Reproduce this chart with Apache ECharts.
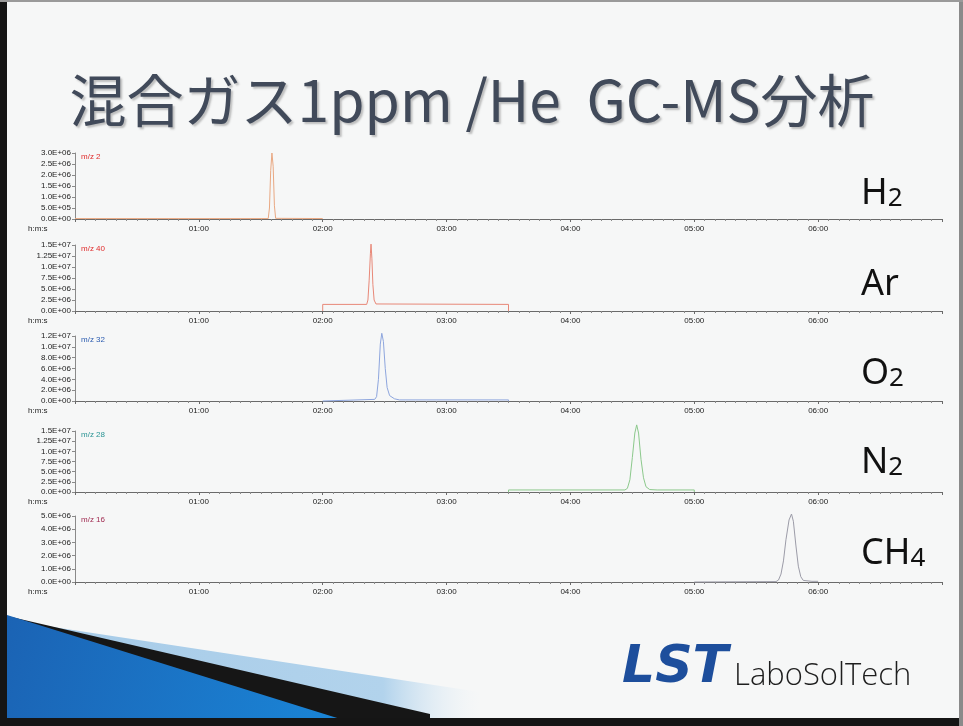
<!DOCTYPE html>
<html>
<head>
<meta charset="utf-8">
<script src="https://cdn.jsdelivr.net/npm/echarts@6.0.0/dist/echarts.min.js"></script>
<style>
html,body{margin:0;padding:0;background:#f6f7f7;}
#chart{width:963px;height:726px;}
</style>
</head>
<body>
<div id="chart"></div>
<script>
// ---- data (time in minutes, intensity in counts) ----
const timeLabels = ['01:00','02:00','03:00','04:00','05:00','06:00'];

const h2Times  = [0.0, 1.56, 1.57, 1.58, 1.59, 1.60, 1.61, 1.62, 2.0];
const h2Values = [2e4, 2e4, 5e5, 2.2e6, 3.0e6, 2.4e6, 6e5, 3e4, 2e4];

const arTimes  = [2.0, 2.0, 2.355, 2.365, 2.375, 2.385, 2.39, 2.397, 2.405, 2.415, 2.43, 3.5, 3.5];
const arValues = [0, 1.5e6, 1.5e6, 2.5e6, 7e6, 1.3e7, 1.52e7, 1.2e7, 6e6, 2.5e6, 1.6e6, 1.5e6, 0];

const o2Times  = [2.0, 2.0, 2.42, 2.435, 2.45, 2.465, 2.477, 2.49, 2.505, 2.52, 2.54, 2.58, 2.62, 3.5, 3.5];
const o2Values = [0, 3e5, 3e5, 8e5, 4e6, 1.05e7, 1.25e7, 1.1e7, 6e6, 2.5e6, 1e6, 4e5, 2e5, 2e5, 0];

const n2Times  = [3.5, 3.5, 4.44, 4.46, 4.48, 4.50, 4.52, 4.535, 4.55, 4.57, 4.59, 4.61, 4.64, 4.70, 5.0, 5.0];
const n2Values = [0, 5e5, 5e5, 9e5, 3e6, 8.5e6, 1.45e7, 1.65e7, 1.45e7, 8e6, 3.5e6, 1.3e6, 6e5, 5e5, 5e5, 0];

const ch4Times  = [5.0, 5.0, 5.66, 5.68, 5.70, 5.72, 5.74, 5.765, 5.785, 5.80, 5.82, 5.84, 5.86, 5.88, 5.95, 6.0, 6.0];
const ch4Values = [0, 3e4, 3e4, 1.5e5, 6e5, 1.6e6, 3.2e6, 4.7e6, 5.15e6, 4.6e6, 2.8e6, 1.2e6, 4e5, 1.2e5, 5e4, 5e4, 0];

const h2Ticks  = ['0.0E+00','5.0E+05','1.0E+06','1.5E+06','2.0E+06','2.5E+06','3.0E+06'];
const arTicks  = ['0.0E+00','2.5E+06','5.0E+06','7.5E+06','1.0E+07','1.25E+07','1.5E+07'];
const o2Ticks  = ['0.0E+00','2.0E+06','4.0E+06','6.0E+06','8.0E+06','1.0E+07','1.2E+07'];
const n2Ticks  = ['0.0E+00','2.5E+06','5.0E+06','7.5E+06','1.0E+07','1.25E+07','1.5E+07'];
const ch4Ticks = ['0.0E+00','1.0E+06','2.0E+06','3.0E+06','4.0E+06','5.0E+06'];

const mzLabels = ['m/z 2','m/z 40','m/z 32','m/z 28','m/z 16'];
const compounds = [['H','2'],['Ar',''],['O','2'],['N','2'],['CH','4']];
const titleText = '混合ガス1ppm /He  GC-MS分析';

// ---- layout / style ----
const panels = [
  {times:h2Times,  values:h2Values,  ticks:h2Ticks,  max:3e6,   step:5e5,   top:153, h:66, color:'#e9a882', mz:'#e02c2c', right:198},
  {times:arTimes,  values:arValues,  ticks:arTicks,  max:1.5e7, step:2.5e6, top:245, h:66, color:'#e88878', mz:'#e02c2c', right:289},
  {times:o2Times,  values:o2Values,  ticks:o2Ticks,  max:1.2e7, step:2e6,   top:336, h:65, color:'#8ea6de', mz:'#2c5cb0', right:378},
  {times:n2Times,  values:n2Values,  ticks:n2Ticks,  max:1.5e7, step:2.5e6, top:431, h:61, color:'#8cc98c', mz:'#2a9494', right:467},
  {times:ch4Times, values:ch4Values, ticks:ch4Ticks, max:5e6,   step:1e6,   top:516, h:66, color:'#9c9ca8', mz:'#a02c52', right:558}
];

const grids=[], xAxes=[], yAxes=[], series=[], graphics=[];

// background & frame
graphics.push({type:'rect', z:-10, shape:{x:0,y:0,width:963,height:726}, style:{fill:'#f6f7f7'}});
graphics.push({type:'polygon', z:-5, shape:{points:[[40,625],[480,692],[480,718],[40,718]]},
  style:{fill:{type:'linear',x:0,y:0,x2:1,y2:0,colorStops:[{offset:0,color:'#a6cbe8'},{offset:0.78,color:'#b2d3ec'},{offset:1,color:'rgba(230,240,247,0)'}]}}});
graphics.push({type:'polygon', z:-4, shape:{points:[[7,616],[430,714],[430,726],[7,726]]}, style:{fill:'#161616'}});
graphics.push({type:'polygon', z:-3, shape:{points:[[7,615],[350,722],[7,722]]},
  style:{fill:{type:'linear',x:0,y:0,x2:1,y2:1,colorStops:[{offset:0,color:'#1b63b4'},{offset:1,color:'#1a86d8'}]}}});
graphics.push({type:'rect', z:-2, shape:{x:0,y:0,width:7,height:726}, style:{fill:'#151515'}});
graphics.push({type:'rect', z:-2, shape:{x:0,y:718,width:963,height:8}, style:{fill:'#151515'}});
graphics.push({type:'rect', z:-2, shape:{x:959,y:0,width:4,height:726}, style:{fill:'#8a8a8a'}});
graphics.push({type:'rect', z:-2, shape:{x:0,y:0,width:963,height:2}, style:{fill:'#9a9a9a'}});

// title
graphics.push({type:'text', x:472, y:100, style:{text:titleText, fill:'#414a5a',
  font:'400 57px "Noto Sans CJK JP", sans-serif', align:'center', verticalAlign:'middle',
  textShadowColor:'rgba(120,120,120,0.45)', textShadowOffsetX:2, textShadowOffsetY:2, textShadowBlur:2}});

// logo
graphics.push({type:'text', x:622, y:668, style:{text:'LST', fill:'#1d4e9c',
  font:'italic bold 52px "DejaVu Sans", sans-serif', align:'left', verticalAlign:'middle'}});
graphics.push({type:'text', x:734, y:676, style:{text:'LaboSolTech', fill:'#1e1e1e',
  font:'300 31px "Open Sans", sans-serif', align:'left', verticalAlign:'middle'}});

panels.forEach((p,i)=>{
  grids.push({left:75, right:21, top:p.top, height:p.h});
  xAxes.push({type:'value', gridIndex:i, min:0, max:7, interval:1,
    axisLine:{lineStyle:{color:'#6a6a6a', width:1}},
    axisTick:{show:true, length:3, lineStyle:{color:'#6a6a6a'}},
    minorTick:{show:true, splitNumber:12, length:2, lineStyle:{color:'#8a8a8a'}},
    splitLine:{show:false},
    axisLabel:{fontSize:8, color:'#222', margin:6, fontFamily:'"Liberation Sans", Arial, sans-serif',
      formatter:v=> (v>=1 && v<=6) ? timeLabels[Math.round(v)-1] : ''}});
  yAxes.push({type:'value', gridIndex:i, min:0, max:p.max, interval:p.step,
    axisLine:{show:true, lineStyle:{color:'#8a8a8a', width:1}},
    axisTick:{show:true, length:3, lineStyle:{color:'#8a8a8a'}},
    splitLine:{show:false},
    axisLabel:{fontSize:8, color:'#222', margin:4, fontFamily:'"Liberation Sans", Arial, sans-serif',
      formatter:v=> p.ticks[Math.round(v/p.step)] || ''}});
  series.push({type:'line', xAxisIndex:i, yAxisIndex:i, showSymbol:false, clip:false, animation:false,
    lineStyle:{color:p.color, width:1}, data:p.times.map((t,k)=>[t,p.values[k]])});

  // m/z label
  graphics.push({type:'text', x:81, y:p.top+4, style:{text:mzLabels[i], fill:p.mz,
    font:'8px "Liberation Sans", Arial, sans-serif', align:'left', verticalAlign:'middle'}});
  // h:m:s label
  graphics.push({type:'text', x:28, y:p.top+p.h+10, style:{text:'h:m:s', fill:'#222',
    font:'8px "Liberation Sans", Arial, sans-serif', align:'left', verticalAlign:'middle'}});
  // compound label
  const c = compounds[i];
  graphics.push({type:'text', x:861, y:p.right+14, style:{
    text: c[1] ? '{a|'+c[0]+'}{b|'+c[1]+'}' : '{a|'+c[0]+'}',
    align:'left', verticalAlign:'bottom',
    rich:{
      a:{fontSize:36, fontFamily:'"Noto Sans", sans-serif', fill:'#111', color:'#111', verticalAlign:'bottom', lineHeight:36},
      b:{fontSize:26, fontFamily:'"Noto Sans", sans-serif', fill:'#111', color:'#111', verticalAlign:'bottom', lineHeight:27}
    }}});
});

const chart = echarts.init(document.getElementById('chart'), null, {renderer:'canvas'});
chart.setOption({
  animation:false,
  backgroundColor:'#f6f7f7',
  grid:grids, xAxis:xAxes, yAxis:yAxes, series:series,
  graphic:{elements:graphics}
});
</script>
</body>
</html>
